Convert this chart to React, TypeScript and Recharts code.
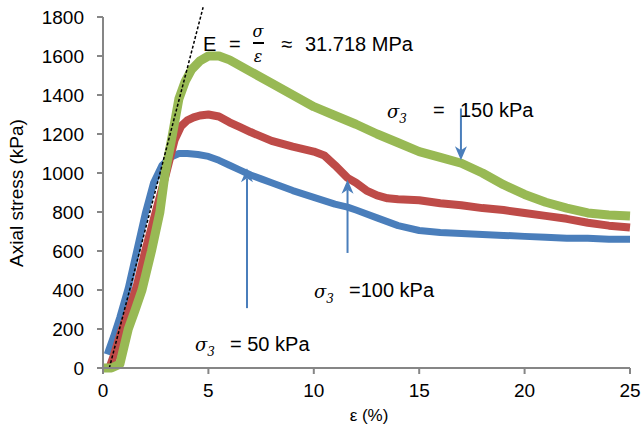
import React from 'react';
import { LineChart, Line, XAxis, YAxis, ReferenceLine } from 'recharts';

// strain (%) and axial stress (kPa), one pair per confining pressure
const strain50 = [0.2, 0.5, 0.8, 1.2, 1.6, 2.0, 2.4, 2.8, 3.2, 3.6, 4.0, 4.5, 5.0, 5.5, 6, 6.5, 7, 7.5, 8, 9, 10, 11, 11.6, 12, 13, 14, 15, 16, 17, 18, 19, 20, 21, 22, 23, 24, 25];
const stress50 = [70, 160, 260, 410, 600, 790, 950, 1040, 1080, 1100, 1100, 1095, 1085, 1065, 1040, 1015, 990, 970, 950, 910, 875, 840, 825, 810, 770, 730, 705, 695, 690, 685, 680, 675, 670, 665, 665, 660, 660];

const strain100 = [0.3, 0.5, 0.9, 1.3, 1.6, 2.0, 2.5, 3.0, 3.4, 3.7, 4.0, 4.3, 4.6, 5.0, 5.5, 6.0, 6.5, 7, 8, 9, 10, 10.5, 11, 11.6, 12, 12.5, 13, 13.5, 14, 15, 16, 17, 18, 19, 20, 21, 22, 23, 24, 25];
const stress100 = [0, 60, 200, 320, 420, 600, 800, 1000, 1170, 1240, 1270, 1285, 1295, 1300, 1290, 1260, 1235, 1210, 1165, 1135, 1110, 1090, 1040, 975, 950, 910, 885, 870, 865, 860, 845, 835, 820, 810, 795, 780, 765, 745, 730, 720];

const strain150 = [0, 0.4, 0.8, 1.2, 1.5, 1.85, 2.3, 2.7, 2.95, 3.3, 3.6, 3.9, 4.2, 4.6, 5.0, 5.5, 6, 7, 8, 9, 10, 11, 12, 13, 14, 15, 16, 17, 18, 19, 20, 21, 22, 23, 24, 25];
const stress150 = [0, 0, 20, 200, 290, 400, 600, 800, 1000, 1200, 1380, 1470, 1530, 1575, 1600, 1600, 1580, 1520, 1460, 1400, 1340, 1295, 1250, 1200, 1155, 1110, 1080, 1050, 1000, 940, 890, 850, 820, 795, 785, 780];

// tangent modulus line (dashed)
const tangentStrain = [0.3, 4.75];
const tangentStress = [0, 1850];

// arrows pointing at each curve: [strain, tail stress, tip stress]
const arrow50 = [6.83, 307, 1024];
const arrow100 = [11.6, 590, 965];
const arrow150 = [16.98, 1331, 1065];

const xTicks = [0, 5, 10, 15, 20, 25];
const yTicks = [0, 200, 400, 600, 800, 1000, 1200, 1400, 1600, 1800];

const toPoints = (xs: number[], ys: number[]) => xs.map((x, i) => ({ x, y: ys[i] }));

const BLUE = '#4a7ebb';
const RED = '#be4b48';
const GREEN = '#98b954';
const AXIS = '#868686';
const FONT = '"Liberation Sans", Arial, sans-serif';

const Arrow = (props: any) => {
  const { x1, y1, x2, y2 } = props;
  const dx = x2 - x1;
  const dy = y2 - y1;
  const len = Math.sqrt(dx * dx + dy * dy) || 1;
  const ux = dx / len;
  const uy = dy / len;
  const head = 14;
  const half = 6;
  const bx = x2 - ux * head;
  const by = y2 - uy * head;
  const nx = x2 - ux * (head - 4);
  const ny = y2 - uy * (head - 4);
  const pts = `${x2},${y2} ${bx - uy * half},${by + ux * half} ${nx},${ny} ${bx + uy * half},${by - ux * half}`;
  return (
    <g>
      <line x1={x1} y1={y1} x2={nx} y2={ny} stroke={BLUE} strokeWidth={2} />
      <polygon points={pts} fill={BLUE} />
    </g>
  );
};

const arrowSegment = (a: number[]) => [
  { x: a[0], y: a[1] },
  { x: a[0], y: a[2] },
];

function Sigma3({ x, y }: { x: number; y: number }) {
  return (
    <text x={x} y={y} fontFamily="'DejaVu Serif', serif" fontStyle="italic" fontSize={18} fill="#000">
      σ
      <tspan fontSize={12} dy={5}>3</tspan>
    </text>
  );
}

export default function App() {
  return (
    <div style={{ position: 'absolute', left: 0, top: 0, width: 642, height: 430, background: '#fff' }}>
      <LineChart width={642} height={430} margin={{ top: 17, right: 12, bottom: 0, left: 0 }}>
        <XAxis
          type="number"
          dataKey="x"
          domain={[0, 25]}
          ticks={xTicks}
          height={62}
          stroke={AXIS}
          strokeWidth={2}
          tickSize={6}
          tickMargin={10}
          tick={{ fill: '#000', fontSize: 19, fontFamily: FONT }}
          allowDuplicatedCategory={false}
        />
        <YAxis
          type="number"
          dataKey="y"
          domain={[0, 1800]}
          ticks={yTicks}
          width={103}
          stroke={AXIS}
          strokeWidth={2}
          tickSize={6}
          tickMargin={13}
          tick={{ fill: '#000', fontSize: 19, fontFamily: FONT }}
        />
        <Line data={toPoints(strain50, stress50)} dataKey="y" stroke={BLUE} strokeWidth={7} strokeLinejoin="round" dot={false} isAnimationActive={false} />
        <Line data={toPoints(strain100, stress100)} dataKey="y" stroke={RED} strokeWidth={8} strokeLinejoin="round" dot={false} isAnimationActive={false} />
        <Line data={toPoints(strain150, stress150)} dataKey="y" stroke={GREEN} strokeWidth={9} strokeLinejoin="round" dot={false} isAnimationActive={false} />
        <ReferenceLine
          segment={toPoints(tangentStrain, tangentStress)}
          ifOverflow="visible"
          stroke="#000"
          strokeWidth={1.5}
          strokeDasharray="3 2"
        />
        <ReferenceLine segment={arrowSegment(arrow50)} ifOverflow="visible" shape={Arrow} />
        <ReferenceLine segment={arrowSegment(arrow100)} ifOverflow="visible" shape={Arrow} />
        <ReferenceLine segment={arrowSegment(arrow150)} ifOverflow="visible" shape={Arrow} />
      </LineChart>
      <svg width={642} height={430} style={{ position: 'absolute', left: 0, top: 0, pointerEvents: 'none' }}>
        <text x={16} y={193} transform="rotate(-90 16 193)" textAnchor="middle" dominantBaseline="central" fontFamily={FONT} fontSize={19} fill="#000">
          Axial stress (kPa)
        </text>
        <text x={369} y={415} textAnchor="middle" dominantBaseline="central" fontFamily={FONT} fontSize={17} fill="#000">
          ε (%)
        </text>

        <g fontFamily={FONT} fontSize={20} fill="#000">
          <text x={203} y={51}>E</text>
          <text x={229} y={51}>=</text>
          <text x={287} y={51} textAnchor="middle">≈</text>
          <text x={305} y={51}>31.718 MPa</text>
          <text x={433} y={117}>=</text>
          <text x={460} y={117}>150 kPa</text>
          <text x={349} y={297}>=100 kPa</text>
          <text x={230} y={351}>= 50 kPa</text>
        </g>
        <text x={258} y={37} textAnchor="middle" fontFamily="'DejaVu Serif', serif" fontStyle="italic" fontSize={16} fill="#000">σ</text>
        <line x1={253} y1={43} x2={264} y2={43} stroke="#000" strokeWidth={2} />
        <text x={258} y={62} textAnchor="middle" fontFamily="'DejaVu Serif', serif" fontStyle="italic" fontSize={16} fill="#000">ε</text>
        <Sigma3 x={387} y={118} />
        <Sigma3 x={314} y={298} />
        <Sigma3 x={195} y={351} />
      </svg>
    </div>
  );
}
